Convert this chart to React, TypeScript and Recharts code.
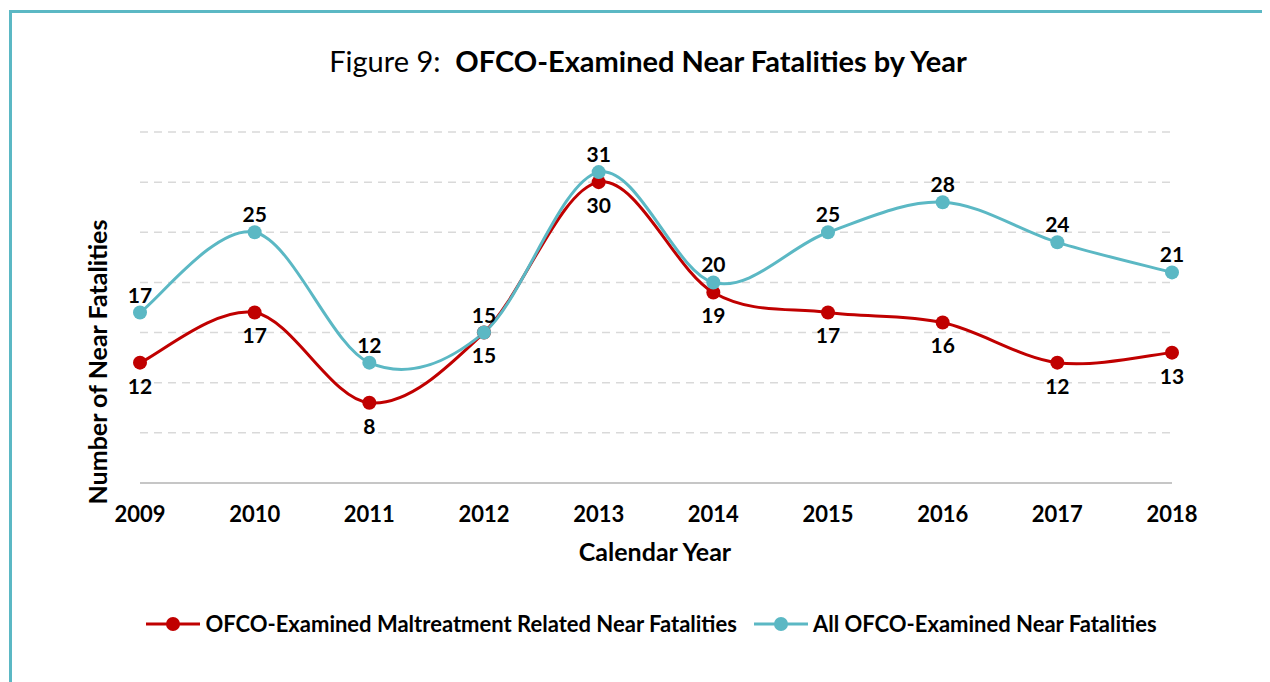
import React from 'react'
import { CartesianGrid, LabelList, Legend, Line, LineChart, XAxis, YAxis } from 'recharts'

// Figure 9: OFCO-examined near fatalities, 2009-2018.
const years = ['2009', '2010', '2011', '2012', '2013', '2014', '2015', '2016', '2017', '2018']
const maltreatmentRelated = [12, 17, 8, 15, 30, 19, 17, 16, 12, 13]
const allExamined = [17, 25, 12, 15, 31, 20, 25, 28, 24, 21]
const yTicks = [0, 5, 10, 15, 20, 25, 30, 35]
const seriesNames = ['OFCO-Examined Maltreatment Related Near Fatalities', 'All OFCO-Examined Near Fatalities']

const RED = '#C00000'
const TEAL = '#5BB8C4'
const FONT = 'Lato, "Open Sans", sans-serif'

const data = years.map((year, i) => ({
  year,
  maltreatment: maltreatmentRelated[i],
  all: allExamined[i],
}))

// Excel-style smoothed line: cubic bezier through each point, control points
// taken from the neighbours (so the curve can overshoot like the original).
const excelSmooth = (context: any) => {
  let xs: number[] = []
  let ys: number[] = []
  return {
    areaStart() {},
    areaEnd() {},
    lineStart() {
      xs = []
      ys = []
    },
    point(x: number, y: number) {
      xs.push(+x)
      ys.push(+y)
    },
    lineEnd() {
      const n = xs.length
      if (!n) return
      context.moveTo(xs[0], ys[0])
      for (let i = 0; i < n - 1; i++) {
        const p = Math.max(i - 1, 0)
        const q = Math.min(i + 2, n - 1)
        context.bezierCurveTo(
          xs[i] + (xs[i + 1] - xs[p]) / 6,
          ys[i] + (ys[i + 1] - ys[p]) / 6,
          xs[i + 1] - (xs[q] - xs[i]) / 6,
          ys[i + 1] - (ys[q] - ys[i]) / 6,
          xs[i + 1],
          ys[i + 1],
        )
      }
    },
  }
}

function LegendContent({ payload }: { payload?: any[] }) {
  if (!payload) return null
  // keep the series order of the original legend (recharts sorts by name)
  const items = [...payload].sort((a, b) => seriesNames.indexOf(a.value) - seriesNames.indexOf(b.value))
  return (
    <div style={{ display: 'flex', justifyContent: 'center', paddingLeft: 42, fontFamily: FONT }}>
      {items.map((entry) => (
        <div key={entry.value} style={{ display: 'flex', alignItems: 'center', marginRight: 17 }}>
          <svg width={54} height={16}>
            <line x1={0} y1={8} x2={54} y2={8} stroke={entry.color} strokeWidth={3} />
            <circle cx={27} cy={8} r={7} fill={entry.color} />
          </svg>
          <span style={{ marginLeft: 5, fontWeight: 700, fontSize: 22, color: '#000' }}>{entry.value}</span>
        </div>
      ))}
    </div>
  )
}

export default function App() {
  return (
    <div style={{ position: 'relative', width: 1262, height: 674, overflow: 'hidden', background: '#fff', fontFamily: FONT }}>
      <div
        style={{
          position: 'absolute',
          left: 1,
          top: 2,
          width: 1400,
          height: 800,
          borderLeft: `3px solid ${TEAL}`,
          borderTop: `3px solid ${TEAL}`,
        }}
      />
      <div style={{ position: 'absolute', left: 0, width: 1280, top: 35, textAlign: 'center', fontSize: 29, color: '#000' }}>
        Figure 9:&nbsp; <b>OFCO-Examined Near Fatalities by Year</b>
      </div>
      <div style={{ position: 'absolute', left: 89, top: 354, width: 0, height: 0 }}>
        <div
          style={{
            position: 'absolute',
            transform: 'translate(-50%, -50%) rotate(-90deg)',
            whiteSpace: 'nowrap',
            fontSize: 25,
            fontWeight: 700,
            color: '#000',
          }}
        >
          Number of Near Fatalities
        </div>
      </div>
      <div style={{ position: 'absolute', left: 0, width: 1294, top: 528, textAlign: 'center', fontSize: 25, fontWeight: 700, color: '#000' }}>
        Calendar Year
      </div>
      <div style={{ position: 'absolute', left: 0, top: 0 }}>
        <LineChart width={1262} height={674} data={data} margin={{ top: 124, right: 98, bottom: 169, left: 132 }}>
          <CartesianGrid vertical={false} stroke="#d9d9d9" strokeWidth={1.5} strokeDasharray="8 6" />
          <XAxis
            dataKey="year"
            padding={{ left: 0, right: 0 }}
            height={30}
            tickLine={false}
            axisLine={{ stroke: '#c6c6c6', strokeWidth: 2 }}
            tickMargin={17}
            tick={{ fill: '#000', fontSize: 22, fontWeight: 700, fontFamily: FONT }}
          />
          <YAxis hide domain={[0, 35]} ticks={yTicks} />
          <Legend
            layout="horizontal"
            verticalAlign="middle"
            align="center"
            wrapperStyle={{ top: 602, left: 0, width: 1262 }}
            content={<LegendContent />}
          />
          <Line
            dataKey="maltreatment"
            name={seriesNames[0]}
            type={excelSmooth as any}
            stroke={RED}
            strokeWidth={3}
            dot={{ r: 7, fill: RED, stroke: 'none' }}
            activeDot={false}
            isAnimationActive={false}
          >
            <LabelList dataKey="maltreatment" position="bottom" offset={16} fill="#000" fontSize={21} fontWeight={700} fontFamily={FONT} />
          </Line>
          <Line
            dataKey="all"
            name={seriesNames[1]}
            type={excelSmooth as any}
            stroke={TEAL}
            strokeWidth={3}
            dot={{ r: 7, fill: TEAL, stroke: 'none' }}
            activeDot={false}
            isAnimationActive={false}
          >
            <LabelList dataKey="all" position="top" offset={10} fill="#000" fontSize={21} fontWeight={700} fontFamily={FONT} />
          </Line>
        </LineChart>
      </div>
    </div>
  )
}
